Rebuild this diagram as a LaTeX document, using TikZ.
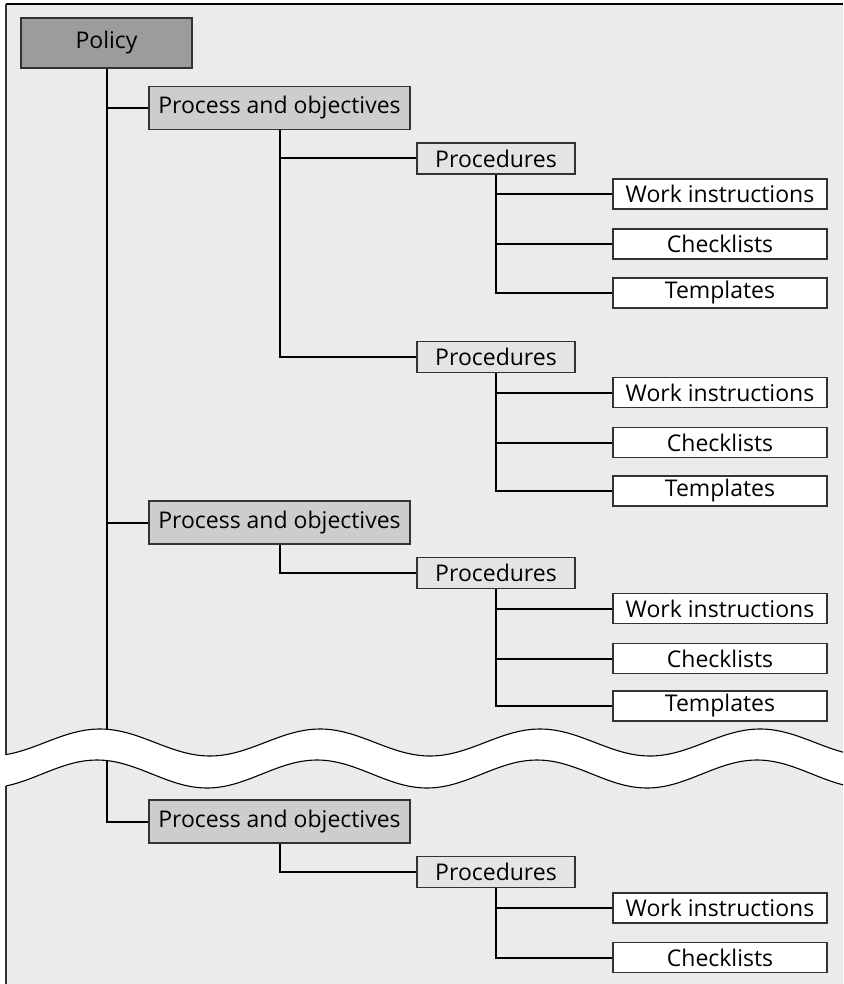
\documentclass[tikz,border=0pt]{standalone}
\usepackage{fontspec}
\setmainfont{Open Sans}
\definecolor{sheet}{HTML}{EBEBEB}
\definecolor{policyfill}{HTML}{9C9C9C}
\definecolor{processfill}{HTML}{CDCDCD}
\definecolor{procfill}{HTML}{E4E4E4}
\definecolor{edge}{HTML}{333333}
\tikzset{
  box/.style={draw=edge, line width=1.3pt, inner sep=0pt, align=center,
    font=\fontsize{23}{26}\selectfont},
  policybox/.style={box, fill=policyfill, minimum width=171pt, minimum height=50pt},
  processbox/.style={box, fill=processfill, minimum width=261pt, minimum height=43pt},
  procbox/.style={box, fill=procfill, minimum width=158pt, minimum height=31pt},
  leafbox/.style={box, fill=white, minimum width=214pt, minimum height=30pt},
  link/.style={draw=black, line width=2pt},
}
% upper and lower edge of the break band
\def\waveA#1{742.5-13.5*cos(((#1)-100)*1.636364)}
\def\waveB#1{774-14*cos(((#1)-97)*1.636364)}
\begin{document}
\begin{tikzpicture}[x=1pt, y=-1pt]
\useasboundingbox (0,0) rectangle (843,984);
% sheet background
\fill[sheet] (6,4) rectangle (843,984);

% nodes
\node[policybox]  (pol) at (106.5,43) {Policy};

\node[processbox] (pa) at (279.5,108) {Process and objectives};
\node[procbox]    (pa1) at (496,158.5) {Procedures};
\node[leafbox]    (pa1w) at (720,194) {Work instructions};
\node[leafbox]    (pa1c) at (720,244) {Checklists};
\node[leafbox]    (pa1t) at (720,293) {Templates};
\node[procbox]    (pa2) at (496,357) {Procedures};
\node[leafbox]    (pa2w) at (720,392.5) {Work instructions};
\node[leafbox]    (pa2c) at (720,442.5) {Checklists};
\node[leafbox]    (pa2t) at (720,491) {Templates};

\node[processbox] (pb) at (279.5,522.5) {Process and objectives};
\node[procbox]    (pb1) at (496,573) {Procedures};
\node[leafbox]    (pb1w) at (720,608.5) {Work instructions};
\node[leafbox]    (pb1c) at (720,658.5) {Checklists};
\node[leafbox]    (pb1t) at (720,706) {Templates};

\node[processbox] (pc) at (279.5,821.5) {Process and objectives};
\node[procbox]    (pc1) at (496,872) {Procedures};
\node[leafbox]    (pc1w) at (720,908) {Work instructions};
\node[leafbox]    (pc1c) at (720,957.5) {Checklists};

% connectors
\path[link] (pol.south) |- (pa.west);
\path[link] (pol.south) |- (pb.west);
\path[link] (pol.south) |- (pc.west);
\path[link] (pa.south) |- (pa1.west);
\path[link] (pa.south) |- (pa2.west);
\path[link] (pb.south) |- (pb1.west);
\path[link] (pc.south) |- (pc1.west);
\foreach \p/\l in {pa1/pa1w, pa1/pa1c, pa1/pa1t, pa2/pa2w, pa2/pa2c, pa2/pa2t,
                   pb1/pb1w, pb1/pb1c, pb1/pb1t, pc1/pc1w, pc1/pc1c}
  \path[link] (\p.south) |- (\l.west);

% top edge of the sheet
\draw[black, line width=1.6pt] (6,4) -- (843,4);

% wavy break across the sheet
\fill[white]
  plot[domain=0:843, samples=120, smooth] (\x,{\waveA{\x}})
  -- plot[domain=843:0, samples=120, smooth] (\x,{\waveB{\x}})
  -- cycle;
\fill[white] (0,0) rectangle (5,984);
\draw[edge, line width=2pt] (6,4) -- (6,{\waveA{6}});
\draw[edge, line width=2pt] (6,{\waveB{6}}) -- (6,984);
\draw[black, line width=1.1pt]
  plot[domain=6:843, samples=120, smooth] (\x,{\waveA{\x}});
\draw[black, line width=1.1pt]
  plot[domain=6:843, samples=120, smooth] (\x,{\waveB{\x}});
\end{tikzpicture}
\end{document}
